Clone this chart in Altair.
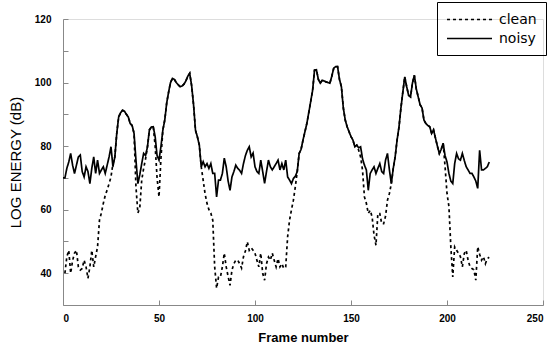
import altair as alt
import pandas as pd

# Noisy: frames 0..222
noisy_frames = list(range(0, 223))
noisy_values = [
    70, 70, 73, 75, 77.7, 74, 71.4, 74, 76.6, 77.2,
    72, 70.3, 73.5, 72, 68.2, 73, 76.6, 71.4, 75.6, 71.4,
    72.5, 73.5, 71.4, 74, 76.6, 79.8, 73.5, 76.6, 84, 89.2,
    90.5, 91.3, 91, 90, 89.2, 87.1, 86.5, 84, 75.6, 68.2,
    71, 74.5, 77.7, 77, 79.8, 85.1, 86, 86.1, 83, 77,
    75.6, 79.8, 85, 88.2, 93.5, 97, 100, 101.3, 101, 100,
    99.3, 98.7, 98.9, 99.5, 100.5, 102, 102.9, 99, 93, 85,
    82.9, 80.3, 73.5, 75.1, 73.5, 74.5, 73, 74.5, 71.4, 71.4,
    64, 69.3, 69.3, 71.4, 76.2, 73.5, 69, 66.1, 70.3, 72,
    74, 73, 72.4, 71.4, 74.5, 77, 78.7, 79.8, 76.6, 77.8,
    73.5, 72, 71.4, 75.6, 72, 68.3, 72, 75.6, 73.5, 72.5,
    73.5, 74.5, 75.6, 72.5, 74.5, 72.5, 75.6, 70.3, 69.3, 68.2,
    69.8, 70.5, 72, 77.7, 79, 81.9, 84.5, 87.1, 90.5, 94,
    97.5, 103.9, 104, 101, 99.8, 100.7, 100.5, 100.2, 100, 99.8,
    102, 104.5, 105, 105, 101, 98.7, 92, 88.2, 86.1, 84.5,
    83, 81.9, 79.8, 80.3, 79.5, 79.8, 76, 74, 72.5, 66.1,
    71.4, 72.5, 73.5, 71.4, 73, 74.5, 72, 71.4, 75.6, 77.7,
    72.5, 68.2, 73, 76.6, 81.9, 86, 92, 97, 101.8, 98.7,
    96, 95.5, 99.8, 102.3, 98, 95.5, 93, 92, 88.2, 87.1,
    86.5, 86.1, 84, 85.1, 82.5, 80, 77.7, 79, 80.9, 77,
    75, 71.4, 69, 68.2, 74.5, 77.7, 76, 75.6, 77.7, 75.5,
    73.5, 72.5, 71.4, 71.4, 70.3, 69, 66.7, 78.7, 72.5, 72.5,
    73, 73.5, 75,
]

# Clean: frames 1..222
clean_frames = list(range(1, 223))
clean_values = [
    40, 45.2, 47.2, 40, 44, 46.3, 47.2, 42, 41,
    41.5, 44.1, 42, 38.4, 42, 47.2, 42, 45.2, 48.3, 56.7,
    59, 62, 64.5, 66.2, 68.2, 70.3, 74.5, 76.6, 84, 89.2,
    90.5, 91.3, 91, 90, 89.2, 87.1, 86.5, 84, 67.2, 58.9,
    60.6, 69.3, 73, 76, 79.8, 85.1, 86, 86.1, 80, 70,
    64, 76, 85, 88.2, 93.5, 97, 100, 101.3, 101, 100,
    99.3, 98.7, 98.9, 99.5, 100.5, 102, 102.9, 99, 93, 85,
    82.9, 80.3, 73.5, 69.3, 65, 62, 60, 58.9, 56.7, 42,
    35.3, 38.8, 38.8, 42, 46.3, 42, 39, 36.2, 41, 43,
    44.1, 44.1, 43, 41.6, 45.2, 47, 49.9, 47.2, 48, 47.2,
    46.3, 44.1, 42, 46.3, 40, 37.8, 43, 45.1, 44.1, 46.3,
    44.1, 42, 44.6, 42, 43, 41.5, 42, 51.5, 56.7, 60,
    63, 67.2, 72, 77.7, 79, 81.9, 84.5, 87.1, 90.5, 94,
    97.5, 103.9, 104, 101, 99.8, 100.7, 100.5, 100.2, 100, 99.8,
    102, 104.5, 105, 105, 101, 98.7, 92, 88.2, 86.1, 84.5,
    83, 81.9, 79.8, 80.3, 78.7, 76.6, 72.4, 64, 62, 58.8,
    59.8, 57.7, 52, 48.8, 58.8, 58.8, 55.6, 55.6, 58, 63,
    65.1, 68.2, 73, 76.6, 81.9, 86, 92, 97, 101.8, 98.7,
    96, 95.5, 99.8, 102.3, 98, 95.5, 93, 92, 88.2, 87.1,
    86.5, 86.1, 84, 85.1, 82.5, 80, 77.7, 79, 80.9, 73.5,
    65.1, 61, 48.3, 38.8, 48.3, 47.2, 46.3, 45.2, 42, 46.2,
    47.2, 44.1, 42, 41.5, 41.1, 37.8, 48.3, 46, 44.1, 45.2,
    43, 44.6, 45,
]

series_names = ["clean", "noisy"]
x_ticks = [0, 50, 100, 150, 200, 250]
y_ticks = [40, 50, 60, 70, 80, 90, 100, 110, 120]

df = pd.concat([
    pd.DataFrame({"frame": noisy_frames, "value": noisy_values, "series": "noisy", "ord": 0}),
    pd.DataFrame({"frame": clean_frames, "value": clean_values, "series": "clean", "ord": 1}),
])

font = "Liberation Sans"
title_font = "DejaVu Sans"
inward = {"expr": "-5"}

chart = alt.Chart(df).mark_line(strokeWidth=1.7, color="black").encode(
    x=alt.X("frame:Q",
            scale=alt.Scale(domain=[0, 250], nice=False),
            axis=alt.Axis(values=x_ticks, title="Frame number", grid=False,
                          tickSize=inward, labelPadding=13, titlePadding=8,
                          labelFontWeight="bold", titleFontWeight="bold",
                          titleFontSize=13)),
    y=alt.Y("value:Q",
            scale=alt.Scale(domain=[30, 120], nice=False, zero=False),
            axis=alt.Axis(values=y_ticks, title="LOG ENERGY (dB)", grid=False,
                          tickSize=inward, labelPadding=17, titlePadding=11,
                          labelExpr="datum.value % 20 == 0 ? datum.label : ''",
                          labelFontWeight="bold", titleFontWeight="normal",
                          titleFontSize=15)),
    strokeDash=alt.StrokeDash("series:N",
                              scale=alt.Scale(domain=series_names, range=[[3, 3], [1, 0]]),
                              legend=alt.Legend(title=None, orient="none",
                                                legendX=374, legendY=-17,
                                                symbolType="M-1,0L5,0", symbolSize=225,
                                                symbolStrokeWidth=1.5, symbolStrokeColor="black",
                                                labelFontSize=14, labelFont=title_font,
                                                strokeColor="black", padding=9,
                                                rowPadding=3, labelOffset=36)),
    detail="series:N",
    order="ord:Q",
).properties(
    width=480, height=286,
    padding={"left": 63, "top": 19, "right": 10, "bottom": 50},
    autosize=alt.AutoSizeParams(type="none"),
).configure_view(stroke=None).configure_axis(
    domainColor="black", domainWidth=1.5, tickColor="black", tickWidth=1.5,
    labelColor="black", titleColor="black", labelFont=font, titleFont=title_font,
    labelFontSize=9.5,
).configure(background="white")

chart.save("out.html", embed_options={"renderer": "svg", "actions": False})
